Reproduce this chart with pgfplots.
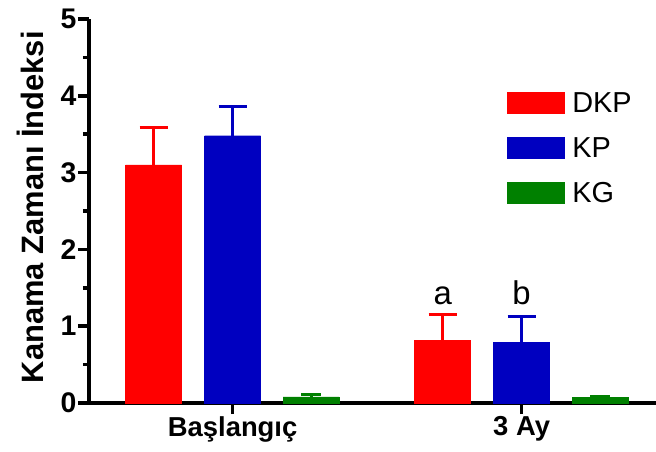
\documentclass[border=0pt]{standalone}
\usepackage{pgfplots}
\pgfplotsset{compat=1.18}
\usepackage{fontspec}
\setmainfont{Liberation Sans}
\definecolor{cRed}{RGB}{255,0,0}
\definecolor{cBlue}{RGB}{0,0,192}
\definecolor{cGreen}{RGB}{0,128,0}
\begin{document}
\begin{tikzpicture}
\path[use as bounding box] (-89bp,-49bp) rectangle (567bp,403bp);
\begin{axis}[
  at={(0,0)}, anchor=south west,
  scale only axis, width=567bp, height=384bp,
  xmin=-0.497, xmax=1.465, ymin=0, ymax=5,
  axis x line=bottom, axis y line=left,
  axis line style={line width=4bp, -},
  tick align=outside,
  xtick={0,1}, xticklabels={Başlangıç, 3 Ay},
  ytick={0,1,2,3,4,5}, yticklabels={0,1,2,3,4,5}, minor y tick num=1,
  major tick length=11bp, minor tick length=6bp,
  every tick/.style={black, line width=3.5bp},
  yticklabel style={font=\bfseries\fontsize{28.5}{28.5}\selectfont, inner sep=1.5bp},
  xticklabel style={font=\bfseries\fontsize{27.5}{27.5}\selectfont, inner sep=2bp},
  ylabel={Kanama Zamanı İndeksi},
  ylabel style={font=\bfseries\fontsize{31}{31}\selectfont, at={(axis description cs:-0.104,0.51)}, anchor=center},
  ybar, bar width=56bp,
  error bars/y dir=plus, error bars/y explicit,
  legend style={at={(axis description cs:0.737,0.81)}, anchor=north west, draw=none, fill=none,
    inner sep=0pt, outer sep=0pt, row sep=23bp,
    nodes={inner sep=0pt, outer sep=0pt, text height=21bp, text depth=0bp, font=\fontsize{29}{29}\selectfont},
    /tikz/every odd column/.append style={column sep=8bp}},
  legend cell align=left,
  clip=false,
]
\addplot[fill=cRed, draw=cRed, bar shift=-79bp,
  error bars/error bar style={line width=3bp, cRed},
  error bars/error mark options={rotate=90, mark size=14bp, line width=3bp, cRed},
  legend image code/.code={\fill[cRed] (0bp,-11bp) rectangle (57bp,10bp);}]
  coordinates {(0,3.10) +- (0,0.49) (1,0.82) +- (0,0.33)};
\addlegendentry{DKP}
\addplot[fill=cBlue, draw=cBlue, bar shift=0bp,
  error bars/error bar style={line width=3bp, cBlue},
  error bars/error mark options={rotate=90, mark size=14bp, line width=3bp, cBlue},
  legend image code/.code={\fill[cBlue] (0bp,-11bp) rectangle (57bp,10bp);}]
  coordinates {(0,3.48) +- (0,0.38) (1,0.79) +- (0,0.33)};
\addlegendentry{KP}
\addplot[fill=cGreen, draw=cGreen, bar shift=78.5bp,
  error bars/error bar style={line width=3bp, cGreen},
  error bars/error mark options={rotate=90, mark size=10bp, line width=3bp, cGreen},
  legend image code/.code={\fill[cGreen] (0bp,-11bp) rectangle (57bp,10bp);}]
  coordinates {(0,0.08) +- (0,0.03) (1,0.07) +- (0,0.02)};
\addlegendentry{KG}
\node[anchor=base, font=\fontsize{33}{33}\selectfont, inner sep=0pt] at (axis cs:0.727,1.28) {a};
\node[anchor=base, font=\fontsize{33}{33}\selectfont, inner sep=0pt] at (axis cs:1,1.28) {b};
\end{axis}
\end{tikzpicture}
\end{document}
